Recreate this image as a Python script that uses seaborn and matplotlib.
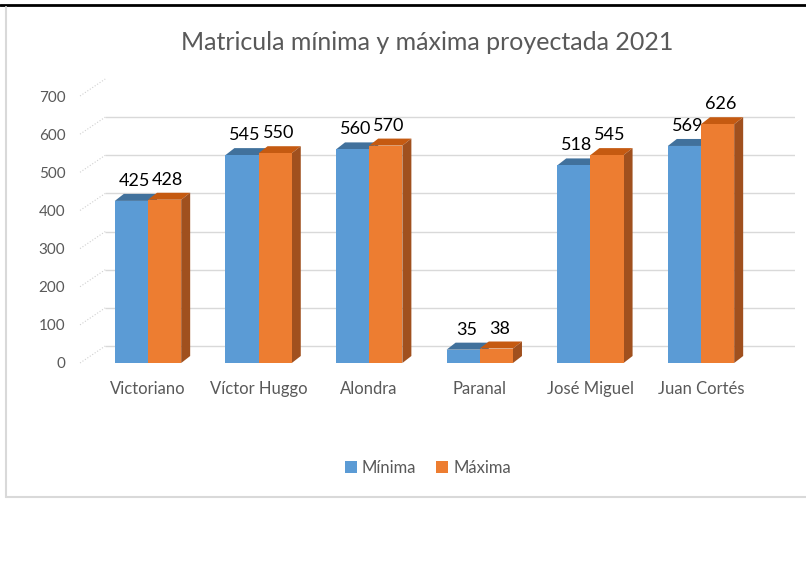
import pandas as pd
import matplotlib.pyplot as plt
import matplotlib.transforms as mtransforms
import seaborn as sns
from matplotlib.patches import Polygon, Patch
from matplotlib.lines import Line2D

# datos
escuelas = ['Victoriano', 'Víctor Huggo', 'Alondra', 'Paranal', 'José Miguel', 'Juan Cortés']
minima = [425, 545, 560, 35, 518, 569]
maxima = [428, 550, 570, 38, 545, 626]
series = ['Mínima', 'Máxima']
colores = ['#5B9BD5', '#ED7D31']
techos = ['#41719C', '#C55A11']
lados = ['#41719C', '#A0501E']
yticks = [0, 100, 200, 300, 400, 500, 600, 700]

df = pd.DataFrame({
    'escuela': escuelas * 2,
    'serie': [series[0]] * len(minima) + [series[1]] * len(maxima),
    'valor': minima + maxima,
})

sns.set_style('white')
plt.rcParams['font.family'] = ['Lato', 'DejaVu Sans']
gris = '#595959'

fig = plt.figure(figsize=(8.06, 5.81), dpi=100)
W, H = 806, 581
ax = fig.add_axes([75 / W, 1 - 363 / H, 720 / W, 267 / H])
sns.barplot(data=df, x='escuela', y='valor', hue='serie', palette=colores,
            width=0.6, saturation=1, ax=ax, legend=False, zorder=2, linewidth=0)

ax.set_xlim(-0.66, 5.85)
ax.set_ylim(0, 700)
ax.set_yticks(yticks)
ax.set_xlabel('')
ax.set_ylabel('')
sns.despine(ax=ax, left=True, bottom=True)
ax.tick_params(axis='y', length=0, pad=7, labelsize=11, labelcolor=gris)
ax.tick_params(axis='x', length=0, pad=13, labelsize=12, labelcolor=gris)

# lineas de cuadricula en la pared del fondo
fig.canvas.draw()
desplazo = mtransforms.ScaledTranslation(0, 0.17, fig.dpi_scale_trans)
ax.hlines(yticks, 0.042, 1.0, transform=ax.get_yaxis_transform() + desplazo,
          color='#D9D9D9', lw=1, zorder=0.5)
ident = mtransforms.IdentityTransform()
ytr = ax.get_yaxis_transform()
for t in yticks:
    xa, ya = ytr.transform((0.007, t))
    xb, yb = (ytr + desplazo).transform((0.042, t))
    ax.add_line(Line2D([xa, xb], [ya, yb], transform=ident, color='#D0D0D0',
                       lw=0.8, ls=':', zorder=0.5, clip_on=False))

# caras 3D y etiquetas
dx, dy = 9, 7
n = len(escuelas)
for i, p in enumerate(ax.patches[:2 * n]):
    k = i // n
    x, w, h = p.get_x(), p.get_width(), p.get_height()
    x0, y0 = ax.transData.transform((x, 0))
    x1, y1 = ax.transData.transform((x + w, h))
    top = Polygon([(x0, y1), (x1, y1), (x1 + dx, y1 + dy), (x0 + dx, y1 + dy)],
                  closed=True, facecolor=techos[k], edgecolor='none',
                  transform=ident, zorder=1.5)
    side = Polygon([(x1, y0), (x1, y1), (x1 + dx, y1 + dy), (x1 + dx, y0 + dy)],
                   closed=True, facecolor=lados[k], edgecolor='none',
                   transform=ident, zorder=1.5)
    ax.add_artist(top)
    ax.add_artist(side)
    ax.annotate(f'{int(h)}', (x + w / 2, h), xytext=(3, 12), textcoords='offset pixels',
                ha='center', va='bottom', fontsize=13, color='black')

fig.text(0.53, 1 - 42 / H, 'Matricula mínima y máxima proyectada 2021',
         ha='center', va='center', fontsize=18, color=gris)

handles = [Patch(facecolor=c, edgecolor='none', label=s) for s, c in zip(series, colores)]
fig.legend(handles=handles, loc='center', bbox_to_anchor=(428 / W, 1 - 468 / H), ncol=2,
           frameon=False, handlelength=0.7, handleheight=0.7, handletextpad=0.3,
           columnspacing=1.2, fontsize=12, labelcolor=gris)

# marco del grafico
fig.add_artist(Line2D([0, 1], [1 - 5 / H, 1 - 5 / H], color='black', lw=2, transform=fig.transFigure))
fig.add_artist(Line2D([6 / W, 6 / W], [1 - 7 / H, 1 - 497 / H], color='#D9D9D9', lw=1.5, transform=fig.transFigure))
fig.add_artist(Line2D([6 / W, 1], [1 - 497 / H, 1 - 497 / H], color='#D9D9D9', lw=1.5, transform=fig.transFigure))

fig.savefig('out.png', dpi=100)
